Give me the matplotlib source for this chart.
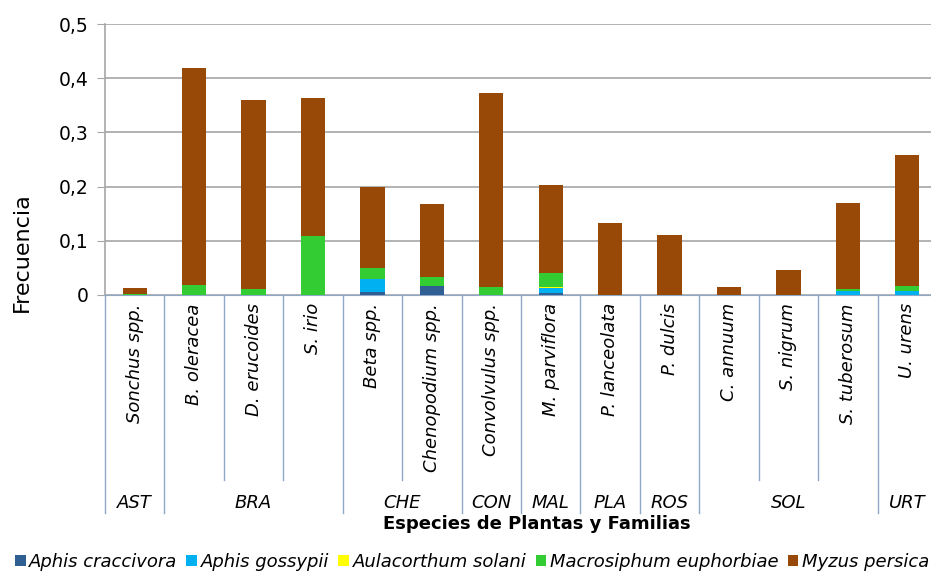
import numpy as np
from matplotlib import pyplot as plt
from matplotlib.lines import Line2D

species = ["Sonchus spp.", "B. oleracea", "D. erucoides", "S. irio", "Beta spp.",
           "Chenopodium spp.", "Convolvulus spp.", "M. parviflora", "P. lanceolata",
           "P. dulcis", "C. annuum", "S. nigrum", "S. tuberosum", "U. urens"]
families = ["AST", "BRA", "CHE", "CON", "MAL", "PLA", "ROS", "SOL", "URT"]
family_size = [1, 3, 2, 1, 1, 1, 1, 3, 1]

a_craccivora = [0, 0, 0, 0, 0.006, 0.017, 0, 0.004, 0, 0, 0, 0, 0, 0]
a_gossypii = [0, 0, 0, 0, 0.024, 0, 0, 0.009, 0, 0, 0, 0, 0.007, 0.007]
a_solani = [0, 0, 0, 0, 0, 0, 0, 0.001, 0, 0, 0, 0, 0, 0]
m_euphorbiae = [0.002, 0.018, 0.011, 0.109, 0.019, 0.016, 0.015, 0.027, 0, 0, 0, 0, 0.004, 0.010]
m_persicae = [0.010, 0.401, 0.349, 0.254, 0.150, 0.135, 0.358, 0.162, 0.132, 0.111, 0.015, 0.046, 0.159, 0.241]

series = [("Aphis craccivora", a_craccivora, "#2F5F93"),
          ("Aphis gossypii", a_gossypii, "#00B0F0"),
          ("Aulacorthum solani", a_solani, "#FFFF00"),
          ("Macrosiphum euphorbiae", m_euphorbiae, "#33CC33"),
          ("Myzus persica", m_persicae, "#984807")]

W, H = 931, 573
fig = plt.figure(figsize=(W / 100, H / 100), dpi=100)
ax = fig.add_axes([105 / W, (H - 295) / H, 832 / W, 271 / H])

x = np.arange(len(species))
bottom = np.zeros(len(species))
for name, vals, col in series:
    ax.bar(x, vals, 0.41, bottom=bottom, color=col, label=name, zorder=3)
    bottom += np.array(vals)

ax.set_xlim(-0.5, len(species) - 0.5)
ax.set_ylim(0, 0.5)
ax.set_yticks(np.arange(0, 0.51, 0.1))
ax.set_yticklabels(["0"] + [f"0,{i}" for i in range(1, 6)], fontsize=13.5)
ax.yaxis.grid(True, color="#A6A6A6", lw=1.2, zorder=0)
ax.tick_params(axis="y", length=6, color="#A6A6A6", pad=6)
ax.set_xticks([])
for s in ["top", "right"]:
    ax.spines[s].set_visible(False)
ax.spines["left"].set_color("#A6A6A6")
ax.spines["bottom"].set_color("#8EA9C8")
ax.spines["left"].set_linewidth(1.2)
fig.text(22 / W, (H - 252) / H, "Frecuencia", rotation=90, ha="center", va="center", fontsize=16)

tr = ax.get_xaxis_transform()
line_col = "#8EA9C8"
for i, sp in enumerate(species):
    ax.text(i, -0.03, sp, rotation=90, ha="center", va="top", style="italic",
            fontsize=13, transform=tr)

# family boundaries and labels
edges = np.concatenate([[0], np.cumsum(family_size)]) - 0.5
for b in np.arange(-0.5, len(species)):
    y_end = -0.804 if b in edges else -0.683
    ax.add_line(Line2D([b, b], [0, y_end], transform=tr, color=line_col, lw=1, clip_on=False))
for fam, lo, hi in zip(families, edges[:-1], edges[1:]):
    ax.text((lo + hi) / 2, -0.768, fam, ha="center", va="center", style="italic",
            fontsize=13, transform=tr)

fig.text(537 / W, (H - 524) / H, "Especies de Plantas y Familias", ha="center", va="center",
         fontsize=13, fontweight="bold")

leg = fig.legend(loc="center", bbox_to_anchor=(472 / W, 11 / H), ncol=5, frameon=False,
                 prop={"style": "italic", "size": 13}, handlelength=0.6, handleheight=0.6,
                 handletextpad=0.2, columnspacing=0.5, borderaxespad=0)

fig.savefig("out.png", dpi=100)
